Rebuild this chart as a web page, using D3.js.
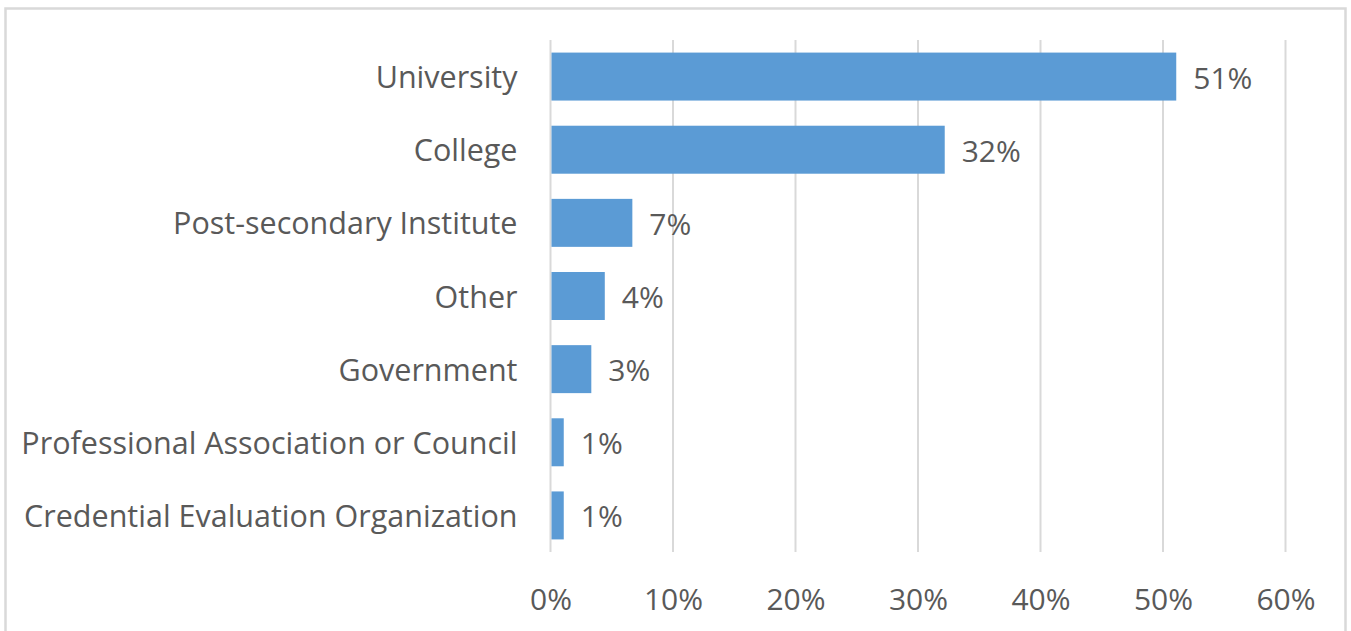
<!DOCTYPE html>
<html>
<head>
<meta charset="utf-8">
<script src="https://cdn.jsdelivr.net/npm/d3@7"></script>
<style>
  html, body { margin: 0; padding: 0; background: #fff; }
  svg { display: block; }
  text { font-family: "Open Sans", "Noto Sans", sans-serif; fill: #595959; }
</style>
</head>
<body>
<svg id="chart" width="1351" height="631"></svg>
<script>
const categories = [
  "University",
  "College",
  "Post-secondary Institute",
  "Other",
  "Government",
  "Professional Association or Council",
  "Credential Evaluation Organization"
];
const values = [51.0, 32.1, 6.6, 4.35, 3.25, 1.0, 1.0];
const valueLabels = ["51%", "32%", "7%", "4%", "3%", "1%", "1%"];
const xTicks = [0, 10, 20, 30, 40, 50, 60];
const xTickLabels = ["0%", "10%", "20%", "30%", "40%", "50%", "60%"];

const svg = d3.select("#chart");
const FS = 30;

// outer border (bottom cut off by the frame)
svg.append("rect")
  .attr("x", 5.5).attr("y", 8.5)
  .attr("width", 1340).attr("height", 640)
  .attr("fill", "#fff")
  .attr("stroke", "#d9d9d9").attr("stroke-width", 2.5);

const plot = { left: 550.5, right: 1285.5, top: 40, bottom: 552 };

const x = d3.scaleLinear().domain([0, 60]).range([plot.left, plot.right]);
const y = d3.scaleBand().domain(categories)
  .range([plot.top, plot.bottom])
  .paddingInner(0.344).paddingOuter(0.172);

// gridlines
svg.append("g").selectAll("line").data(xTicks).join("line")
  .attr("x1", d => x(d)).attr("x2", d => x(d))
  .attr("y1", plot.top).attr("y2", plot.bottom)
  .attr("stroke", "#d9d9d9").attr("stroke-width", 2);

// bars
svg.append("g").selectAll("rect").data(values).join("rect")
  .attr("x", x(0) + 1)
  .attr("y", (d, i) => y(categories[i]))
  .attr("width", d => x(d) - x(0))
  .attr("height", y.bandwidth())
  .attr("fill", "#5b9bd5");

// value labels
svg.append("g").selectAll("text").data(values).join("text")
  .attr("x", d => x(d) + 18)
  .attr("y", (d, i) => y(categories[i]) + y.bandwidth() / 2 + 0.5)
  .attr("dominant-baseline", "central")
  .attr("font-size", FS)
  .text((d, i) => valueLabels[i]);

// category axis
const yAxis = d3.axisLeft(y).tickSize(0).tickPadding(0);
const gy = svg.append("g").attr("transform", `translate(${plot.left - 33},0)`).call(yAxis);
gy.select(".domain").remove();
gy.selectAll("text")
  .attr("font-size", 30.5)
  .style("font-family", '"Open Sans", sans-serif')
  .attr("fill", "#595959")
  .attr("dy", null)
  .attr("y", -0.5)
  .attr("dominant-baseline", "central");

// x axis
const xAxis = d3.axisBottom(x).tickValues(xTicks)
  .tickFormat((d, i) => xTickLabels[i]).tickSize(0).tickPadding(0);
const gx = svg.append("g").attr("transform", `translate(0,${plot.bottom})`).call(xAxis);
gx.select(".domain").remove();
gx.selectAll("text")
  .attr("font-size", FS)
  .style("font-family", '"Open Sans", sans-serif')
  .attr("fill", "#595959")
  .attr("dy", null)
  .attr("y", 46.5)
  .attr("dominant-baseline", "central");
</script>
</body>
</html>
